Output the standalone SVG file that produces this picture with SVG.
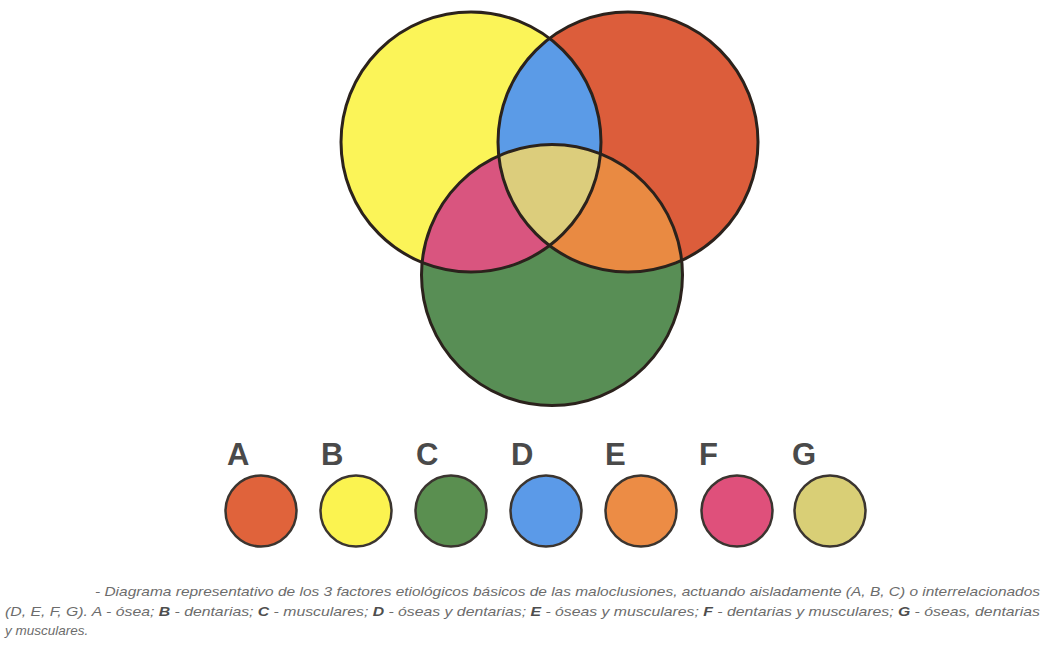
<svg xmlns="http://www.w3.org/2000/svg" width="1044" height="648" viewBox="0 0 1044 648">
<style>
.ring{fill:none;stroke:#2b221c;stroke-width:3}
.lg{stroke:#3b3530;stroke-width:2.5}
.let{font-family:"Liberation Sans",Arial,sans-serif;font-weight:bold;font-size:31px;fill:#4a4a4a}
.cap{font-family:"Liberation Sans",Arial,sans-serif;font-style:italic;font-size:13.5px;fill:#6c6c6c}
.cap .b{font-weight:bold;fill:#4e4e4e}
</style>
<defs>
<clipPath id="clipY"><circle cx="471" cy="142" r="130"/></clipPath>
<clipPath id="clipR"><circle cx="628" cy="142" r="130"/></clipPath>
</defs>
<rect width="1044" height="648" fill="#ffffff"/>
<g id="venn">
<g id="circle-yellow"><circle cx="471" cy="142" r="130" fill="#fbf458"/></g>
<g id="circle-red"><circle cx="628" cy="142" r="130" fill="#dc5d3b"/></g>
<g id="circle-green"><circle cx="552" cy="275" r="130.5" fill="#588e55"/></g>
<g id="region-blue" clip-path="url(#clipY)"><circle cx="628" cy="142" r="130" fill="#5b9be7"/></g>
<g id="region-pink" clip-path="url(#clipY)"><circle cx="552" cy="275" r="130.5" fill="#d9557f"/></g>
<g id="region-orange" clip-path="url(#clipR)"><circle cx="552" cy="275" r="130.5" fill="#e98a42"/></g>
<g id="region-center" clip-path="url(#clipY)"><circle cx="552" cy="275" r="130.5" fill="#dccd7c" clip-path="url(#clipR)"/></g>
<g id="outlines">
<circle class="ring" cx="471" cy="142" r="130"/>
<circle class="ring" cx="628" cy="142" r="130"/>
<circle class="ring" cx="552" cy="275" r="130.5"/>
</g>
</g>
<g id="legend-A"><text class="let" x="227" y="465">A</text><ellipse class="lg" cx="261" cy="511" rx="35.5" ry="35.5" fill="#e0633b"/></g>
<g id="legend-B"><text class="let" x="321" y="465">B</text><ellipse class="lg" cx="356" cy="511" rx="35.5" ry="35.5" fill="#fbf350"/></g>
<g id="legend-C"><text class="let" x="416" y="465">C</text><ellipse class="lg" cx="451" cy="511" rx="35.5" ry="35.5" fill="#5a8f50"/></g>
<g id="legend-D"><text class="let" x="511" y="465">D</text><ellipse class="lg" cx="546" cy="511" rx="35.5" ry="35.5" fill="#5b9ae8"/></g>
<g id="legend-E"><text class="let" x="605" y="465">E</text><ellipse class="lg" cx="641" cy="511" rx="35.5" ry="35.5" fill="#ec8c45"/></g>
<g id="legend-F"><text class="let" x="699" y="465">F</text><ellipse class="lg" cx="737" cy="511" rx="35.5" ry="35.5" fill="#df507b"/></g>
<g id="legend-G"><text class="let" x="792" y="465">G</text><ellipse class="lg" cx="830" cy="511" rx="35.5" ry="35.5" fill="#d9cf76"/></g>
<g id="caption">
<text class="cap" x="95" y="596" textLength="945" lengthAdjust="spacingAndGlyphs">- Diagrama representativo de los 3 factores etiológicos básicos de las maloclusiones, actuando aisladamente (A, B, C) o interrelacionados</text>
<text class="cap" x="5" y="616" textLength="1035" lengthAdjust="spacingAndGlyphs">(D, E, F, G). A - ósea; <tspan class="b">B</tspan> - dentarias; <tspan class="b">C</tspan> - musculares; <tspan class="b">D</tspan> - óseas y dentarias; <tspan class="b">E</tspan> - óseas y musculares; <tspan class="b">F</tspan> - dentarias y musculares; <tspan class="b">G</tspan> - óseas, dentarias</text>
<text class="cap" x="5" y="635">y musculares.</text>
</g>
</svg>
